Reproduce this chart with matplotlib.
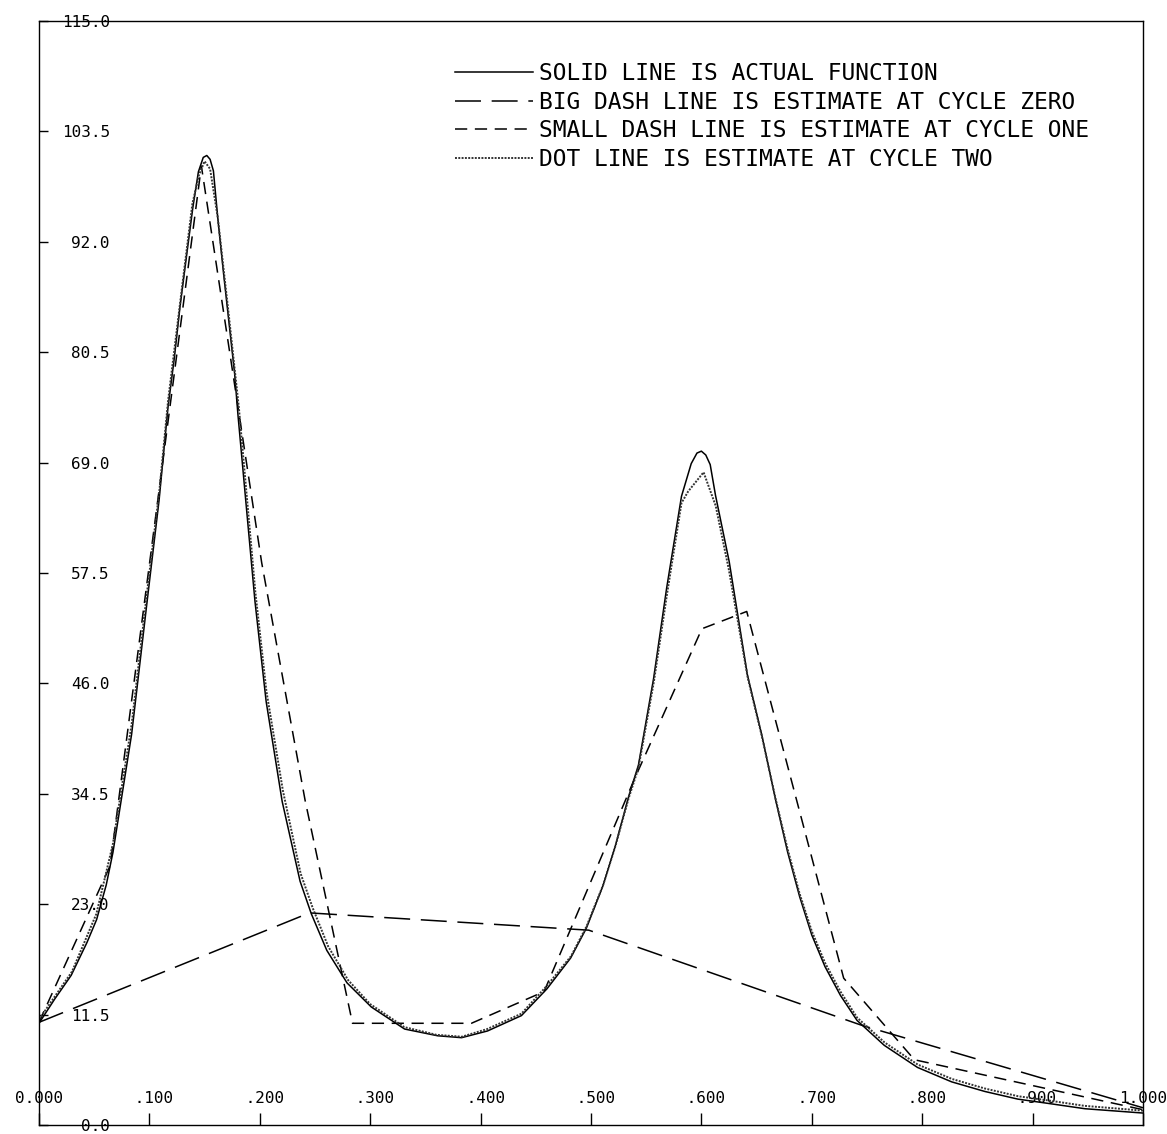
from matplotlib import pyplot as plt
import numpy as np

# actual function (solid)
x_actual = [0.0, 0.0141, 0.0292, 0.0434, 0.0522, 0.0609, 0.0670, 0.0839, 0.0980, 0.1088,
            0.1169, 0.1227, 0.1277, 0.1335, 0.1394, 0.1444, 0.1488, 0.1520, 0.1550, 0.1580,
            0.1622, 0.1672, 0.1722, 0.1772, 0.1803, 0.1875, 0.1957, 0.2058, 0.2203, 0.2365,
            0.2467, 0.2607, 0.2791, 0.3010, 0.3312, 0.3611, 0.3828, 0.4063, 0.4370, 0.4602,
            0.4816, 0.4958, 0.5108, 0.5221, 0.5343, 0.5430, 0.5567, 0.5685, 0.5820, 0.5908,
            0.5960, 0.6000, 0.6040, 0.6080, 0.6128, 0.6252, 0.6417, 0.6550, 0.6670, 0.6780,
            0.6890, 0.7000, 0.7120, 0.7260, 0.7410, 0.7657, 0.7958, 0.8267, 0.8567, 0.8867,
            0.9175, 0.9474, 1.0]
y_actual = [10.6, 13.1, 15.6, 19.0, 21.4, 25.0, 28.4, 40.7, 54.6, 65.1,
            74.8, 80.0, 85.2, 90.4, 95.6, 99.3, 100.8, 101.0, 100.6, 99.4,
            94.2, 88.7, 83.5, 78.3, 73.9, 64.8, 54.5, 44.1, 33.7, 25.4,
            22.0, 18.2, 14.8, 12.3, 10.0, 9.3, 9.1, 9.8, 11.4, 14.2,
            17.4, 20.5, 24.9, 29.1, 34.3, 37.5, 46.5, 55.9, 65.5, 68.9,
            70.0, 70.2, 69.8, 68.8, 65.6, 58.7, 46.9, 40.5, 34.0, 28.5,
            23.8, 19.8, 16.5, 13.5, 10.9, 8.3, 6.0, 4.5, 3.5, 2.7,
            2.2, 1.7, 1.25]

# estimate at cycle zero (big dash)
x_cycle0 = [0.0, 0.245, 0.498, 0.745, 1.0]
y_cycle0 = [10.7, 22.1, 20.3, 10.4, 1.8]

# estimate at cycle one (small dash)
x_cycle1 = [0.0, 0.0644, 0.1471, 0.2017, 0.2411, 0.284, 0.3917, 0.4575, 0.5396,
            0.6005, 0.6411, 0.7289, 0.793, 1.0]
y_cycle1 = [10.7, 27.0, 99.9, 58.6, 33.8, 10.6, 10.6, 13.9, 36.1,
            51.7, 53.5, 15.3, 6.8, 1.6]

# estimate at cycle two (dot)
x_cycle2 = [0.0, 0.03, 0.052, 0.067, 0.084, 0.098, 0.109, 0.117, 0.128, 0.139,
            0.145, 0.150, 0.155, 0.162, 0.172, 0.181, 0.196, 0.206, 0.221, 0.237,
            0.248, 0.262, 0.28, 0.30, 0.331, 0.36, 0.383, 0.406, 0.437, 0.46,
            0.482, 0.496, 0.511, 0.522, 0.534, 0.543, 0.557, 0.569, 0.582, 0.588,
            0.602, 0.613, 0.625, 0.642, 0.655, 0.667, 0.678, 0.689, 0.700, 0.712,
            0.726, 0.741, 0.766, 0.796, 0.827, 0.857, 0.887, 0.918, 0.947, 1.0]
y_cycle2 = [11.0, 16.0, 22.0, 29.3, 41.8, 55.6, 66.0, 75.5, 85.8, 96.0,
            99.0, 100.4, 99.6, 94.5, 84.3, 74.8, 55.5, 45.2, 34.8, 26.2,
            22.6, 18.6, 15.1, 12.6, 10.2, 9.4, 9.2, 10.0, 11.6, 14.5,
            17.6, 20.7, 25.0, 29.0, 34.0, 37.2, 46.2, 55.4, 64.8, 66.0,
            68.0, 64.5, 57.8, 46.6, 40.4, 34.1, 28.8, 24.1, 20.2, 16.9,
            13.9, 11.2, 8.6, 6.3, 4.8, 3.8, 3.0, 2.5, 2.0, 1.5]

legend_labels = ['SOLID LINE IS ACTUAL FUNCTION',
                 'BIG DASH LINE IS ESTIMATE AT CYCLE ZERO',
                 'SMALL DASH LINE IS ESTIMATE AT CYCLE ONE',
                 'DOT LINE IS ESTIMATE AT CYCLE TWO']

y_ticks = [0.0, 11.5, 23.0, 34.5, 46.0, 57.5, 69.0, 80.5, 92.0, 103.5, 115.0]
x_ticks = [0.0, 0.1, 0.2, 0.3, 0.4, 0.5, 0.6, 0.7, 0.8, 0.9, 1.0]
x_tick_labels = ['0.000', ' .100', ' .200', ' .300', ' .400', ' .500',
                 ' .600', ' .700', ' .800', ' .900', '1.000']

plt.rcParams['font.family'] = ['DejaVu Sans Mono']

fig = plt.figure(figsize=(11.67, 11.34), dpi=100)
ax = fig.add_axes([0.0334, 0.0079, 0.946, 0.9735])

ax.plot(x_actual, y_actual, color='black', lw=1.1, label=legend_labels[0])
ax.plot(x_cycle0, y_cycle0, color='black', lw=1.1, dashes=(17, 7), label=legend_labels[1])
ax.plot(x_cycle1, y_cycle1, color='black', lw=1.1, dashes=(8, 5), label=legend_labels[2])
ax.plot(x_cycle2, y_cycle2, color='#333333', lw=1.4, dashes=(1.0, 0.7), label=legend_labels[3])

ax.set_xlim(0, 1)
ax.set_ylim(0, 115)

ax.set_yticks(y_ticks)
ax.set_yticklabels(['%.1f' % v for v in y_ticks])
ax.set_xticks(x_ticks)
ax.set_xticklabels(x_tick_labels)
ax.tick_params(axis='y', direction='in', length=6.5, width=1, pad=-51, labelsize=11.5)
ax.tick_params(axis='x', direction='in', length=8.6, width=1, pad=-24.5, labelsize=11.5)
for s in ax.spines.values():
    s.set_linewidth(1)

leg = ax.legend(loc='upper left', bbox_to_anchor=(455 / 1167, 1 - 62 / 1134),
                bbox_transform=fig.transFigure, frameon=False, borderpad=0,
                borderaxespad=0, handlelength=3.4, handletextpad=0.25,
                labelspacing=0.25, prop={'size': 16.5})

fig.savefig('out.png', dpi=100)
